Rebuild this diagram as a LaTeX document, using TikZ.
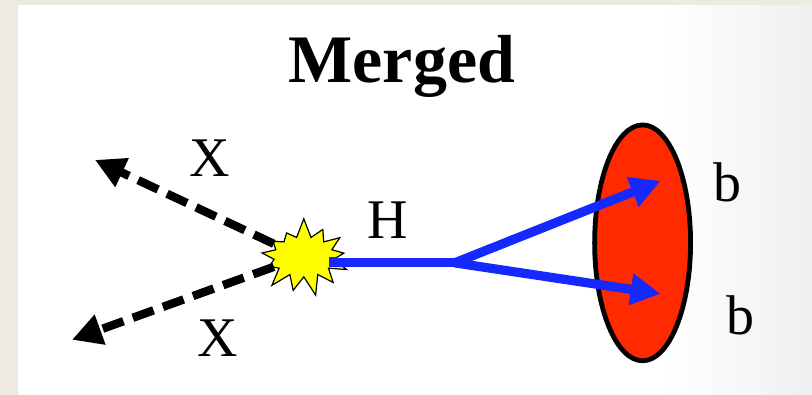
\documentclass[tikz,border=0pt]{standalone}
\usepackage{fontspec}
\setmainfont{Liberation Serif}
\usetikzlibrary{shapes.symbols,shapes.geometric,arrows.meta}
\definecolor{paper}{RGB}{237,234,227}
\definecolor{beam}{RGB}{20,40,255}
\definecolor{jetred}{RGB}{255,42,0}
\definecolor{burst}{RGB}{255,255,0}
\tikzset{
  label text/.style={font=\fontsize{28}{30}\selectfont, text=black},
  xline/.style={line width=4.2pt, dash pattern=on 11pt off 5pt, -{Triangle[length=15pt,width=15pt]}},
  hline/.style={line width=4.6pt, draw=beam},
  bline/.style={line width=4.6pt, draw=beam, -{Triangle[length=15pt,width=15pt]}},
}
\begin{document}
\begin{tikzpicture}[x=0.5pt,y=-0.5pt]
  % page and panel
  \fill[paper] (0,0) rectangle (812,395);
  \fill[white] (18,5) rectangle (812,395);
  % soft shadow toward the right edge, in thin strips
  \foreach \i in {0,...,29} {
    \pgfmathsetmacro{\shadeamt}{\i*6/29}
    \fill[black!\shadeamt] (662+\i*5,5) rectangle (667.5+\i*5,395);
  }
  \useasboundingbox (0,0) rectangle (812,395);

  % title
  \node[font=\fontsize{34}{36}\selectfont\bfseries] (title) at (402,66) {Merged};

  % interaction point
  \node[starburst, starburst points=13, starburst point height=10pt, random starburst=7,
        fill=burst, draw=black, line width=0.6pt, minimum width=50pt, minimum height=40pt,
        inner sep=0pt] (ip) at (304,257) {};

  % outgoing X particles
  \coordinate (x1end) at (95,160);
  \coordinate (x2end) at (72,340);
  \draw[xline] (ip.center) ++(-30,-13) -- (x1end);
  \draw[xline] (ip.center) ++(-30,10) -- (x2end);
  \node[label text] (xup) at (210,158) {X};
  \node[label text] (xdown) at (218,338) {X};

  % Higgs and decay
  \coordinate (split) at (455,263);
  \node[ellipse, fill=jetred, draw=black, line width=2.4pt, minimum width=48pt,
        minimum height=118pt, inner sep=0pt] (jet) at (643,243) {};
  \coordinate (b1tip) at (661,181);
  \coordinate (b2tip) at (661,294);
  \draw[hline] (ip.center) ++(30,0) |- (split);
  \draw[bline] (split) -- (b1tip);
  \draw[bline] (split) -- (b2tip);
  \node[label text] (hlab) at (388,220) {H};
  \node[label text] (b1) at (728,182) {b};
  \node[label text] (b2) at (741,316) {b};
\end{tikzpicture}
\end{document}
